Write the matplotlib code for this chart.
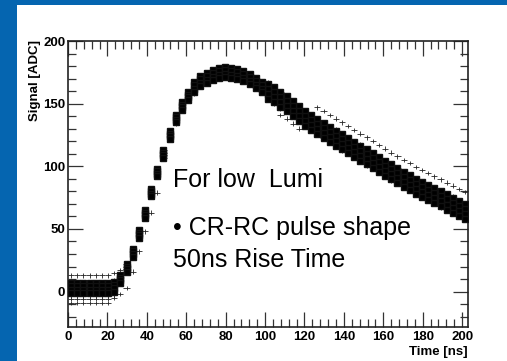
import numpy as np
import matplotlib
matplotlib.use("Agg")
import matplotlib.pyplot as plt
from matplotlib.patches import Rectangle
from matplotlib.ticker import MultipleLocator

plt.rcParams['font.family'] = ['Liberation Sans', 'DejaVu Sans']

# sample times [ns] (bin centres)
t = [1.56, 4.69, 7.81, 10.94, 14.06, 17.19, 20.31, 23.44, 26.56, 29.69,
     32.81, 35.94, 39.06, 42.19, 45.31, 48.44, 51.56, 54.69, 57.81, 60.94,
     64.06, 67.19, 70.31, 73.44, 76.56, 79.69, 82.81, 85.94, 89.06, 92.19,
     95.31, 98.44, 101.56, 104.69, 107.81, 110.94, 114.06, 117.19, 120.31, 123.44,
     126.56, 129.69, 132.81, 135.94, 139.06, 142.19, 145.31, 148.44, 151.56, 154.69,
     157.81, 160.94, 164.06, 167.19, 170.31, 173.44, 176.56, 179.69, 182.81, 185.94,
     189.06, 192.19, 195.31, 198.44, 201.56]

# pulses forming the dense band [ADC]
band_a = [7, 7, 7, 7, 7, 7, 7, 8, 13, 22,
          34, 49, 65, 82, 98, 113, 128, 141, 151, 159,
          167, 172, 174.5, 177, 178.5, 179, 178.5, 177.5, 176, 173.5,
          170.5, 167.5, 166, 163, 159, 156, 152, 148, 144, 141,
          137.5, 134.5, 131.5, 128.5, 125.5, 122.5, 119.5, 116.5, 113.5, 110.5,
          107.5, 104.5, 101.5, 98.5, 95.5, 93, 90, 87.5, 85, 82.5,
          80, 77.5, 75, 72.5, 70]
band_b = [4.5, 4.5, 4.5, 4.5, 4.5, 4.5, 4.5, 5.5, 11, 20,
          32, 47, 63, 80, 96, 111, 126, 139, 149, 157,
          164.5, 169.5, 172, 174.5, 176, 176.5, 176, 175, 173.5, 171,
          168, 165, 162, 159, 155, 152, 148, 144, 140, 137,
          133.5, 130.5, 127.5, 124.5, 121.5, 118.5, 115.5, 112.5, 109.5, 106.5,
          103.5, 100.5, 97.5, 94.5, 91.5, 89, 86, 83.5, 81, 78.5,
          76, 73.5, 71, 68.5, 66]
band_c = [1.5, 1.5, 1.5, 1.5, 1.5, 1.5, 1.5, 2.5, 9, 18,
          30, 45, 61, 78, 94, 109, 124, 137, 147, 155,
          161.5, 166.5, 169, 171.5, 173, 173.5, 173, 172, 170.5, 168,
          165, 162, 158, 155, 151, 148, 144, 140, 136, 133,
          129.5, 126.5, 123.5, 120.5, 117.5, 114.5, 111.5, 108.5, 105.5, 102.5,
          99.5, 96.5, 93.5, 90.5, 87.5, 85, 82, 79.5, 77, 74.5,
          72, 69.5, 67, 64.5, 62]
band_d = [-1, -1, -1, -1, -1, -1, -1, 0, 7, 16,
          28, 43, 59, 76, 92, 107, 122, 135, 145, 153,
          159, 164, 166.5, 169, 170.5, 171, 170.5, 169.5, 168, 165.5,
          162.5, 159.5, 154, 151, 147, 144, 140, 136, 132, 129,
          125.5, 122.5, 119.5, 116.5, 113.5, 110.5, 107.5, 104.5, 101.5, 98.5,
          95.5, 92.5, 89.5, 86.5, 83.5, 81, 78, 75.5, 73, 70.5,
          68, 65.5, 63, 60.5, 58]

nan = np.nan
# sparse pulses only seen as error crosses
cross_hi = [13, 13, 13, 13, 13, 13, 13, 15, 17, nan,
            nan, nan, nan, nan, nan, nan, nan, nan, nan, nan,
            nan, nan, nan, nan, nan, nan, nan, nan, nan, nan,
            nan, nan, nan, nan, nan, nan, nan, nan, nan, nan,
            147, 144, 141, 138, 135, 132, 129, 126, 123, 120,
            117, 114, 111, 108, 105, 102.5, 99.5, 97, 94.5, 92,
            89.5, 87, 84.5, 82, 79.5]
cross_lo1 = [-3, -3, -3, -3, -3, -3, -3, -3, -2, 3,
             16, 32, 48, 63, 79, nan, nan, nan, nan, nan,
             nan, nan, nan, nan, nan, nan, nan, nan, nan, nan,
             nan, nan, nan, nan, 141, 138, 134, 130, nan, nan,
             nan, nan, nan, nan, nan, nan, nan, nan, nan, nan,
             nan, nan, nan, nan, nan, nan, nan, nan, nan, nan,
             nan, nan, nan, nan, nan]
cross_lo2 = [-6, -6, -6, -6, -6, -6, -6, -5, nan, nan] + [nan] * 55
cross_lo3 = [-9, -9, -9, -9, -9, -9, -9, nan, nan, nan] + [nan] * 55

fig = plt.figure(figsize=(5.07, 3.61), dpi=100)
fig.patch.set_facecolor('#0565b0')
fig.patches.append(Rectangle((17 / 507, 0), 490 / 507, 356 / 361,
                             transform=fig.transFigure, facecolor='white',
                             edgecolor='none', zorder=-1))

ax = fig.add_axes([68 / 507, 1 - 327.3 / 361, 400 / 507, 286.3 / 361])
ax.set_zorder(1)
ax.set_facecolor('white')

for ys in [cross_hi, cross_lo1, cross_lo2, cross_lo3]:
    ax.errorbar(t, ys, xerr=1.56, yerr=1.8, fmt='none', ecolor='#222222',
                elinewidth=0.6, capsize=0, zorder=2)

for ys in [band_a, band_b, band_c, band_d]:
    ax.errorbar(t, ys, xerr=1.56, yerr=2.5, fmt='s', ms=4.4, mfc='black',
                mec='#111111', ecolor='#222222', elinewidth=0.6, capsize=0,
                zorder=3)

ax.set_xlim(0, 203)
ax.set_ylim(-28.5, 200)
ax.xaxis.set_major_locator(MultipleLocator(20))
ax.xaxis.set_minor_locator(MultipleLocator(4))
ax.yaxis.set_major_locator(MultipleLocator(50))
ax.yaxis.set_minor_locator(MultipleLocator(10))
ax.tick_params(which='both', direction='in', top=True, right=True,
               color='#333333', width=0.9)
ax.tick_params(which='major', length=11, labelsize=9.5, pad=3)
ax.tick_params(which='minor', length=6)
ax.tick_params(axis='y', which='major', pad=2)
for lab in ax.get_xticklabels() + ax.get_yticklabels():
    lab.set_fontweight('bold')
for sp in ax.spines.values():
    sp.set_linewidth(1.2)
    sp.set_color('#222222')

fig.text(35 / 507, 1 - 40 / 361, 'Signal [ADC]', rotation=90, ha='center',
         va='top', fontsize=9.5, fontweight='bold')
fig.text(468 / 507, 1 - 351.5 / 361, 'Time [ns]', ha='right', va='center',
         fontsize=9.5, fontweight='bold')

fig.text(173 / 507, 1 - 186.7 / 361, 'For low  Lumi', fontsize=18, zorder=5)
fig.text(173 / 507, 1 - 235 / 361, '\u2022 CR-RC pulse shape', fontsize=18,
         zorder=5)
fig.text(173 / 507, 1 - 266.7 / 361, '50ns Rise Time', fontsize=18, zorder=5)

fig.savefig('out.png', dpi=100, facecolor=fig.get_facecolor())
